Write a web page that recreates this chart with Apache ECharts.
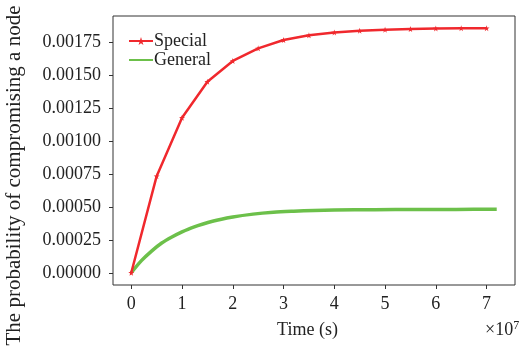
<!DOCTYPE html>
<html>
<head>
<meta charset="utf-8">
<script src="https://cdn.jsdelivr.net/npm/echarts@6/dist/echarts.min.js"></script>
<style>
html,body{margin:0;padding:0;background:#fff;}
#chart{width:521px;height:354px;}
</style>
</head>
<body>
<div id="chart"></div>
<script>
// Data (x in units of 1e7 s)
const specialX = [0, 0.5, 1, 1.5, 2, 2.5, 3, 3.5, 4, 4.5, 5, 5.5, 6, 6.5, 7];
const specialY = [0, 0.000735, 0.001179, 0.001453, 0.001611, 0.001707, 0.00177, 0.001806, 0.001828, 0.001841, 0.001849, 0.001854, 0.001858, 0.00186, 0.00186];
const generalX = [0, 0.2, 0.4, 0.6, 0.8, 1.0, 1.2, 1.6, 2.0, 2.4, 2.8, 3.2, 3.6, 4.0, 4.8, 5.6, 6.4, 7.2];
const generalY = [0, 0.000092, 0.000165, 0.000226, 0.000272, 0.000311, 0.000344, 0.000392, 0.000424, 0.000446, 0.00046, 0.000468, 0.000474, 0.000477, 0.00048, 0.000481, 0.000482, 0.000483];
const xTicks = [0, 1, 2, 3, 4, 5, 6, 7];
const yTicks = [0, 0.00025, 0.0005, 0.00075, 0.001, 0.00125, 0.0015, 0.00175];
const seriesNames = ['Special', 'General'];
const xTitle = 'Time (s)';
const yTitle = 'The probability of compromising a node';

const FONT = '"Liberation Serif", "DejaVu Serif", serif';
const RED = '#f0282d';
const GREEN = '#6cc04a';
const STAR = 'path://M50,0 L61,35 L98,35 L68,57 L79,91 L50,70 L21,91 L32,57 L2,35 L39,35 Z';

const chart = echarts.init(document.getElementById('chart'), null, {renderer: 'canvas'});
chart.setOption({
  animation: false,
  backgroundColor: '#fff',
  grid: {left: 113, right: 6, top: 16, bottom: 69, show: true, borderColor: '#333', borderWidth: 1, backgroundColor: 'transparent'},
  legend: {
    left: 123, top: 27, orient: 'vertical', itemWidth: 24, itemHeight: 10, itemGap: 1,
    textStyle: {fontFamily: FONT, fontSize: 18, color: '#222', lineHeight: 18, padding: [0, 0, 0, -4]},
    data: [seriesNames[0], {name: seriesNames[1], itemStyle: {opacity: 0}}]
  },
  xAxis: {
    type: 'value', min: -0.36, max: 7.56,
    axisLine: {show: false, onZero: false},
    axisTick: {show: true, customValues: xTicks, length: 4, lineStyle: {color: '#333'}},
    axisLabel: {customValues: xTicks, margin: 10, fontFamily: FONT, fontSize: 18, color: '#222'},
    splitLine: {show: false}
  },
  yAxis: {
    type: 'value', min: -0.000093, max: 0.001953,
    axisLine: {show: false, onZero: false},
    axisTick: {show: true, customValues: yTicks, length: 4, lineStyle: {color: '#333'}},
    axisLabel: {customValues: yTicks, margin: 12, fontFamily: FONT, fontSize: 18, color: '#222',
      formatter: v => v.toFixed(5)},
    splitLine: {show: false}
  },
  graphic: [
    {type: 'text', x: 14, y: 175.5, rotation: Math.PI / 2,
      style: {text: yTitle, font: '21px ' + FONT, fill: '#222', align: 'center', verticalAlign: 'middle'}},
    {type: 'text', x: 307.5, y: 330,
      style: {text: xTitle, font: '18px ' + FONT, fill: '#222', align: 'center', verticalAlign: 'middle'}},
    {type: 'text', x: 485, y: 330,
      style: {text: '{a|×10}{b|7}', fill: '#222', align: 'left', verticalAlign: 'middle',
        rich: {a: {fontFamily: FONT, fontSize: 18, color: '#222'},
               b: {fontFamily: FONT, fontSize: 12, color: '#222', verticalAlign: 'top', padding: [0, 0, 8, 0]}}}}
  ],
  series: [
    {name: seriesNames[0], type: 'line', data: specialX.map((x, i) => [x, specialY[i]]),
      symbol: STAR, symbolSize: 6, showSymbol: true, color: RED,
      lineStyle: {width: 2.5, color: RED}, itemStyle: {color: RED}, z: 3},
    {name: seriesNames[1], type: 'line', data: generalX.map((x, i) => [x, generalY[i]]),
      symbol: 'none', smooth: 0.3, color: GREEN,
      lineStyle: {width: 3.5, color: GREEN}, itemStyle: {color: GREEN}, z: 2}
  ]
});
</script>
</body>
</html>
